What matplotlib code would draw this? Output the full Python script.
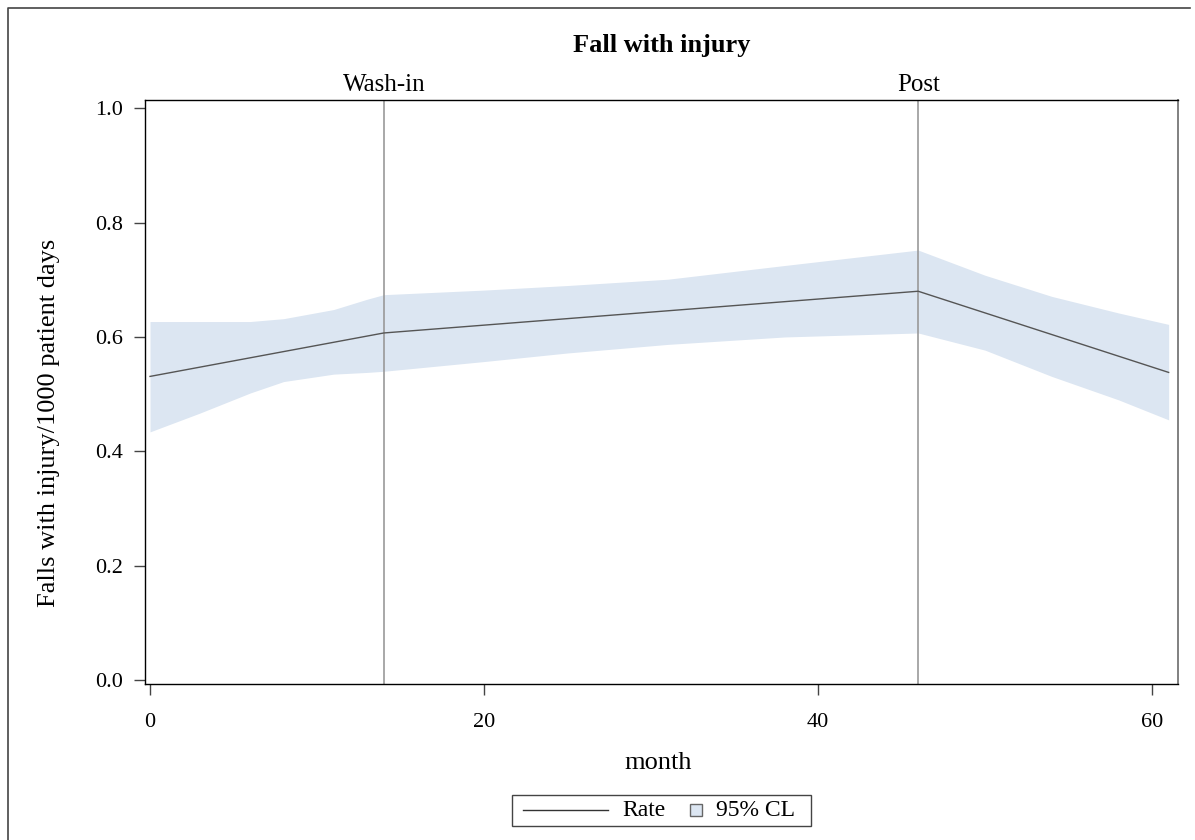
import matplotlib
matplotlib.use("Agg")
import matplotlib.pyplot as plt
from matplotlib.patches import Rectangle
from matplotlib.lines import Line2D

plt.rcParams['font.family'] = ['Liberation Serif', 'DejaVu Serif']

# ---- data ----
rate_month = [0, 14, 46, 61]
rate_value = [0.531, 0.607, 0.680, 0.538]

cl_month = [0, 3, 6, 8, 11, 13, 14, 20, 25, 31, 38, 46, 50, 54, 58, 61]
cl_upper = [0.627, 0.627, 0.627, 0.632, 0.648, 0.666, 0.674, 0.682, 0.690,
            0.701, 0.725, 0.752, 0.708, 0.671, 0.642, 0.622]
cl_lower = [0.434, 0.467, 0.502, 0.522, 0.535, 0.538, 0.540, 0.557, 0.572,
            0.587, 0.600, 0.607, 0.577, 0.531, 0.490, 0.455]

phase_month = [14, 46]
phase_label = ["Wash-in", "Post"]

x_ticks = [0, 20, 40, 60]
y_ticks = [0.0, 0.2, 0.4, 0.6, 0.8, 1.0]

title = "Fall with injury"
x_label = "month"
y_label = "Falls with injury/1000 patient days"

# ---- figure ----
W, H = 1195, 840
fig = plt.figure(figsize=(W / 100, H / 100), dpi=100)
L, R, T, B = 145, 1178, 100, 684
ax = fig.add_axes([L / W, 1 - B / H, (R - L) / W, (B - T) / H])

band_color = "#DCE6F2"
ax.fill_between(cl_month, cl_lower, cl_upper, color=band_color, lw=0, zorder=1)
ax.plot(rate_month, rate_value, color="#555555", lw=1.0, zorder=3)
for m, lab in zip(phase_month, phase_label):
    ax.axvline(m, color="#999999", lw=1.2, zorder=2)
    ax.text(m, 1.026, lab, transform=ax.get_xaxis_transform(), ha="center",
            va="center", fontsize=18)

ax.set_xlim(-0.3, 61.56)
ax.set_ylim(-0.007, 1.0145)
ax.set_xticks(x_ticks)
ax.set_xticklabels([str(v) for v in x_ticks])
ax.set_yticks(y_ticks)
ax.set_yticklabels([f"{v:.1f}" for v in y_ticks])
ax.tick_params(axis="both", direction="out", length=8, width=1, labelsize=16,
               pad=8, color="#444444")
ax.tick_params(axis="x", pad=13)
for s in ["left", "bottom", "top"]:
    ax.spines[s].set_color("black")
    ax.spines[s].set_linewidth(1.0)
ax.spines["right"].set_color("#808080")
ax.spines["right"].set_linewidth(1.4)

ax.set_xlabel(x_label, fontsize=19)
ax.xaxis.set_label_coords(0.497, (B - 763) / (B - T))
ax.xaxis.label.set_va("center")
ax.set_ylabel(y_label, fontsize=19)
ax.yaxis.set_label_coords((49 - L) / (R - L), (B - 423) / (B - T))
ax.yaxis.label.set_va("center")
ax.text(0.5, 1.094, title, transform=ax.transAxes, ha="center", va="center",
        fontsize=19, fontweight="bold")

# figure border (left and top edges)
fig.add_artist(Line2D([8 / W, 8 / W, 1190 / W], [0, 1 - 8 / H, 1 - 8 / H],
                      transform=fig.transFigure, color="#444444", lw=1.2))

# legend (manual)
def fx(px):
    return px / W

def fy(py):
    return 1 - py / H

fig.add_artist(Rectangle((fx(512), fy(826)), fx(811) - fx(512), fy(795) - fy(826),
                         transform=fig.transFigure, fill=False,
                         edgecolor="#444444", lw=1.0))
fig.add_artist(Line2D([fx(523), fx(608)], [fy(810), fy(810)],
                      transform=fig.transFigure, color="#333333", lw=1.0))
fig.text(fx(622), fy(810), "Rate", ha="left", va="center", fontsize=17)
fig.add_artist(Rectangle((fx(690), fy(816)), fx(702) - fx(690), fy(804) - fy(816),
                         transform=fig.transFigure, facecolor=band_color,
                         edgecolor="#666666", lw=1.0))
fig.text(fx(716), fy(810), "95% CL", ha="left", va="center", fontsize=17)

fig.savefig("out.png", dpi=100)
